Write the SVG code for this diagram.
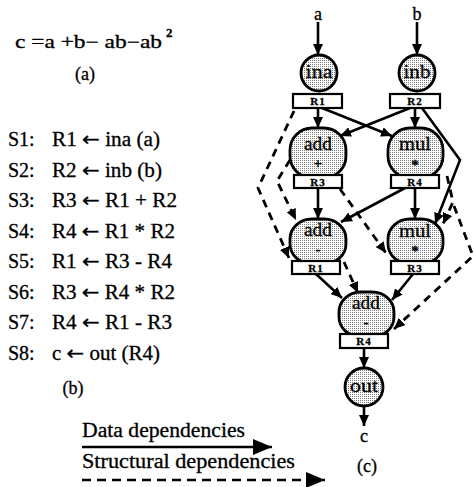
<svg xmlns="http://www.w3.org/2000/svg" width="474" height="487" viewBox="0 0 474 487">
<defs>
<pattern id="dots" width="2" height="2" patternUnits="userSpaceOnUse">
<rect width="2" height="2" fill="#fff"/>
<rect width="1" height="1" fill="#7a7a7a"/>
</pattern>
<marker id="ah" markerUnits="userSpaceOnUse" markerWidth="12" markerHeight="10" refX="11" refY="5" orient="auto">
<path d="M0,0 L11,5 L0,10 z" fill="#000"/>
</marker>
<marker id="ahl" markerUnits="userSpaceOnUse" markerWidth="20" markerHeight="16" refX="19" refY="8" orient="auto">
<path d="M0,0 L19,8 L0,16 z" fill="#000"/>
</marker>
</defs>
<style>
text{font-family:"Liberation Serif","Times New Roman",serif;fill:#000;stroke:#000;stroke-width:0.3}
.t{font-size:20px}
.ar{font-family:"DejaVu Sans",sans-serif}
.nd{fill:url(#dots);stroke:#000;stroke-width:2.8}
.rg{fill:#fff;stroke:#000;stroke-width:2.2}
.rl{font-size:11px;font-weight:bold;text-anchor:middle;letter-spacing:1px}
.nl{font-size:19px;text-anchor:middle}
.op{font-size:15px;text-anchor:middle;font-weight:bold}
.e{fill:none;stroke:#000;stroke-width:2.6;marker-end:url(#ah)}
.d{fill:none;stroke:#000;stroke-width:2.8;stroke-dasharray:8 6;marker-end:url(#ah)}
</style>

<!-- (a) formula -->
<g id="formula">
<text x="15" y="48" font-size="18" textLength="147" lengthAdjust="spacingAndGlyphs">c =a +b− ab−ab</text>
<text x="166" y="37" font-size="13" font-weight="bold">2</text>
<text x="85" y="80" font-size="18" text-anchor="middle">(a)</text>
</g>

<!-- (b) schedule -->
<g id="schedule" class="t">
<text x="8" y="146">S1:</text><text x="52" y="146" textLength="108" lengthAdjust="spacingAndGlyphs">R1 <tspan class="ar">←</tspan> ina (a)</text>
<text x="8" y="176.5">S2:</text><text x="52" y="176.5" textLength="110" lengthAdjust="spacingAndGlyphs">R2 <tspan class="ar">←</tspan> inb (b)</text>
<text x="8" y="207">S3:</text><text x="52" y="207" textLength="125" lengthAdjust="spacingAndGlyphs">R3 <tspan class="ar">←</tspan> R1 + R2</text>
<text x="8" y="237.5">S4:</text><text x="52" y="237.5" textLength="123" lengthAdjust="spacingAndGlyphs">R4 <tspan class="ar">←</tspan> R1 * R2</text>
<text x="8" y="268">S5:</text><text x="52" y="268" textLength="120" lengthAdjust="spacingAndGlyphs">R1 <tspan class="ar">←</tspan> R3 - R4</text>
<text x="8" y="298.5">S6:</text><text x="52" y="298.5" textLength="123" lengthAdjust="spacingAndGlyphs">R3 <tspan class="ar">←</tspan> R4 * R2</text>
<text x="8" y="329">S7:</text><text x="52" y="329" textLength="120" lengthAdjust="spacingAndGlyphs">R4 <tspan class="ar">←</tspan> R1 - R3</text>
<text x="8" y="359.5">S8:</text><text x="52" y="359.5" textLength="108" lengthAdjust="spacingAndGlyphs">c <tspan class="ar">←</tspan> out (R4)</text>
<text x="73" y="394" font-size="18" text-anchor="middle">(b)</text>
</g>

<!-- legend -->
<g id="legend">
<text x="82" y="437" class="t" textLength="163" lengthAdjust="spacingAndGlyphs">Data dependencies</text>
<line x1="82" y1="447" x2="272" y2="447" stroke="#000" stroke-width="2.5" marker-end="url(#ahl)"/>
<text x="82" y="468" class="t" textLength="213" lengthAdjust="spacingAndGlyphs">Structural dependencies</text>
<line x1="82" y1="480" x2="325" y2="480" stroke="#000" stroke-width="2.5" stroke-dasharray="9 6" marker-end="url(#ahl)"/>
<text x="367" y="472" font-size="18" text-anchor="middle">(c)</text>
</g>

<!-- connectors -->
<g id="connectors">
<path class="e" d="M318,22 L318,55"/>
<path class="e" d="M417,22 L417,55"/>
<path class="e" d="M318,108 L318,128"/>
<path class="e" d="M322,108 L392,136"/>
<path class="e" d="M410,108 L340,136"/>
<path class="e" d="M415,108 L415,128"/>
<path class="e" d="M422,108 L460,160 L435,224"/>
<path class="e" d="M318,188 L318,219"/>
<path class="e" d="M405,188 L341,222"/>
<path class="e" d="M415,188 L415,219"/>
<path class="e" d="M316,274 L342,298"/>
<path class="e" d="M413,274 L392,300"/>
<path class="e" d="M364,348 L364,368"/>
<path class="e" d="M364,406 L364,426"/>
<path class="d" d="M294,111 L258,188 L289,258"/>
<path class="d" d="M290,160 L277,181 L296,220"/>
<path class="d" d="M340,189 L386,253"/>
<path class="d" d="M344,262 L358,293"/>
<path class="d" d="M447,176 L453,202 L443,224"/>
<path class="d" d="M454,206 L473,256 L394,329"/>
</g>

<!-- nodes -->
<g id="n_a"><text x="318" y="20" font-size="18" text-anchor="middle">a</text></g>
<g id="n_b"><text x="417" y="20" font-size="18" text-anchor="middle">b</text></g>

<g id="n_ina">
<circle class="nd" cx="319" cy="73" r="18"/>
<text class="nl" x="319" y="78" textLength="27" lengthAdjust="spacingAndGlyphs">ina</text>
<rect class="rg" x="293" y="94" width="49" height="14"/>
<text class="rl" x="318" y="105">R1</text>
</g>

<g id="n_inb">
<circle class="nd" cx="417" cy="73" r="18"/>
<text class="nl" x="417" y="78" textLength="27" lengthAdjust="spacingAndGlyphs">inb</text>
<rect class="rg" x="390" y="94" width="50" height="14"/>
<text class="rl" x="415" y="105">R2</text>
</g>

<g id="n_add1">
<rect class="nd" x="290" y="128" width="56" height="50" rx="22" ry="22"/>
<text class="nl" x="318" y="150" textLength="28" lengthAdjust="spacingAndGlyphs">add</text>
<text class="op" x="318" y="168">+</text>
<rect class="rg" x="294" y="175" width="48" height="13"/>
<text class="rl" x="318" y="185.5">R3</text>
</g>

<g id="n_mul1">
<rect class="nd" x="388" y="128" width="55" height="50" rx="22" ry="22"/>
<text class="nl" x="415" y="150" textLength="32" lengthAdjust="spacingAndGlyphs">mul</text>
<text class="op" x="415" y="170">*</text>
<rect class="rg" x="391" y="175" width="48" height="13"/>
<text class="rl" x="415" y="185.5">R4</text>
</g>

<g id="n_add2">
<rect class="nd" x="290" y="219" width="56" height="45" rx="22" ry="20"/>
<text class="nl" x="318" y="236" font-size="17" textLength="28" lengthAdjust="spacingAndGlyphs">add</text>
<text class="op" x="318" y="254">-</text>
<rect class="rg" x="292" y="261" width="48" height="13"/>
<text class="rl" x="316" y="271.5">R1</text>
</g>

<g id="n_mul2">
<rect class="nd" x="388" y="219" width="55" height="45" rx="22" ry="20"/>
<text class="nl" x="415" y="237" textLength="32" lengthAdjust="spacingAndGlyphs">mul</text>
<text class="op" x="415" y="256">*</text>
<rect class="rg" x="391" y="261" width="48" height="13"/>
<text class="rl" x="415" y="271.5">R3</text>
</g>

<g id="n_add3">
<rect class="nd" x="339" y="292" width="55" height="45" rx="22" ry="20"/>
<text class="nl" x="366" y="309" font-size="17" textLength="28" lengthAdjust="spacingAndGlyphs">add</text>
<text class="op" x="366" y="327">-</text>
<rect class="rg" x="340" y="334" width="48" height="14"/>
<text class="rl" x="364" y="345">R4</text>
</g>

<g id="n_out">
<circle class="nd" cx="364" cy="387" r="19"/>
<text class="nl" x="364" y="392" textLength="28" lengthAdjust="spacingAndGlyphs">out</text>
</g>

<g id="n_c"><text x="364" y="442" font-size="18" text-anchor="middle">c</text></g>
</svg>
